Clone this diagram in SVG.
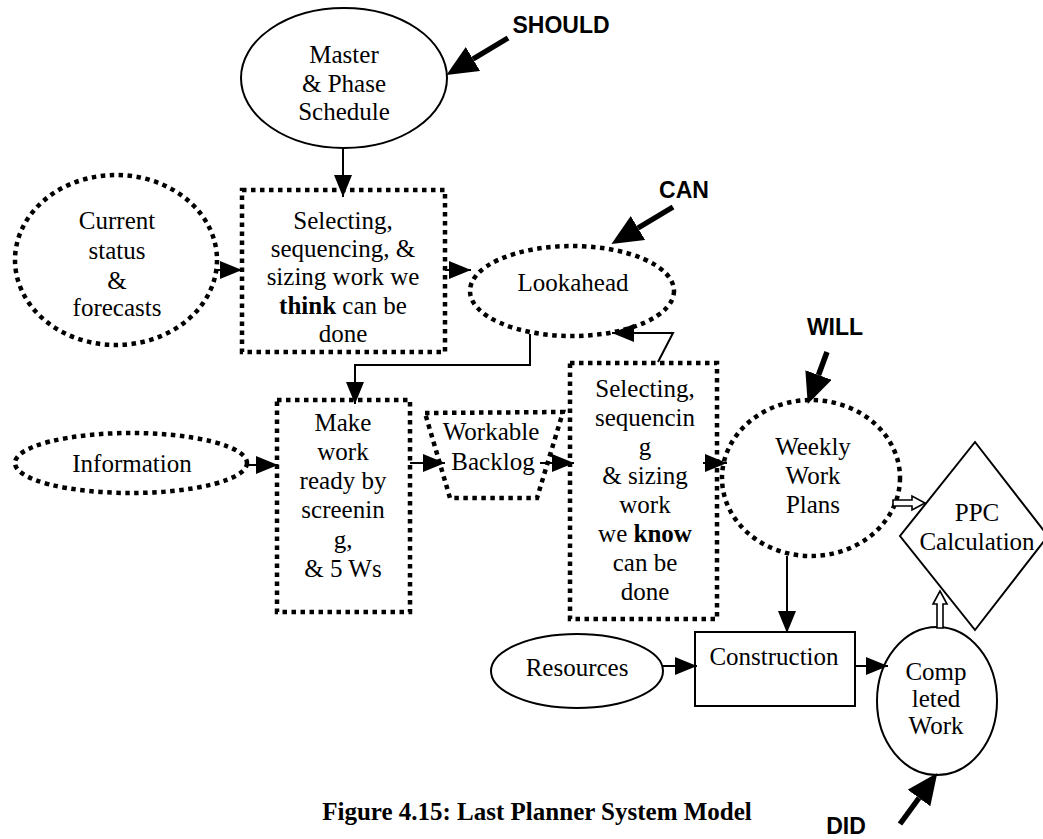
<svg xmlns="http://www.w3.org/2000/svg" width="1043" height="839" viewBox="0 0 1043 839">
  <style>
    .lbl { font-family: "Liberation Serif", "Times New Roman", serif; font-size: 25px; fill: #000; text-anchor: middle; }
    .tag { font-family: "Liberation Sans", Arial, sans-serif; font-size: 23px; font-weight: bold; fill: #000; text-anchor: middle; }
    .cap { font-family: "Liberation Serif", "Times New Roman", serif; font-size: 25px; font-weight: bold; fill: #000; text-anchor: middle; }
    .solid { fill: #fff; stroke: #000; stroke-width: 2; }
    .dot { fill: #fff; stroke: #000; stroke-width: 4.5; stroke-dasharray: 4.5 4.5; }
    .conn { fill: none; stroke: #000; stroke-width: 2; }
    .thick { fill: none; stroke: #000; stroke-width: 5.5; }
    .hollow { fill: #fff; stroke: #000; stroke-width: 1.6; stroke-linejoin: miter; }
  </style>
  <defs>
    <marker id="tri" markerUnits="userSpaceOnUse" markerWidth="24" markerHeight="20" refX="22" refY="9" orient="auto">
      <path d="M0,0 L22,9 L0,18 Z" fill="#000"/>
    </marker>
    <marker id="big" markerUnits="userSpaceOnUse" markerWidth="32" markerHeight="30" refX="0" refY="14" orient="auto">
      <path d="M0,0 L31,14 L0,28 Z" fill="#000"/>
    </marker>
  </defs>

  <rect width="1043" height="839" fill="#fff"/>

  <!-- nodes -->
  <g id="master">
    <ellipse class="solid" cx="344" cy="78" rx="103" ry="70"/>
    <text class="lbl" x="344" y="63">Master</text>
    <text class="lbl" x="344" y="92">&amp; Phase</text>
    <text class="lbl" x="344" y="120">Schedule</text>
  </g>

  <g id="current-status">
    <ellipse class="dot" cx="116" cy="260" rx="101" ry="85"/>
    <text class="lbl" x="117" y="229">Current</text>
    <text class="lbl" x="117" y="259">status</text>
    <text class="lbl" x="117" y="289">&amp;</text>
    <text class="lbl" x="117" y="316">forecasts</text>
  </g>

  <g id="select-think">
    <rect class="dot" x="242" y="190" width="203" height="162"/>
    <text class="lbl" x="343" y="229">Selecting,</text>
    <text class="lbl" x="343" y="257">sequencing, &amp;</text>
    <text class="lbl" x="343" y="285">sizing work we</text>
    <text class="lbl" x="343" y="314"><tspan font-weight="bold">think</tspan> can be</text>
    <text class="lbl" x="343" y="342">done</text>
  </g>

  <g id="lookahead">
    <ellipse class="dot" cx="572" cy="291" rx="102" ry="45"/>
    <text class="lbl" x="573" y="291">Lookahead</text>
  </g>

  <g id="information">
    <ellipse class="dot" cx="131" cy="463" rx="116" ry="30"/>
    <text class="lbl" x="132" y="472">Information</text>
  </g>

  <g id="make-ready">
    <rect class="dot" x="277" y="400" width="133" height="212"/>
    <text class="lbl" x="343" y="431">Make</text>
    <text class="lbl" x="343" y="460">work</text>
    <text class="lbl" x="343" y="489">ready by</text>
    <text class="lbl" x="343" y="518">screenin</text>
    <text class="lbl" x="343" y="548">g,</text>
    <text class="lbl" x="343" y="577">&amp; 5 Ws</text>
  </g>

  <g id="workable-backlog">
    <polygon class="dot" points="425,413 563,412 537,498 450,498"/>
    <text class="lbl" x="491" y="440">Workable</text>
    <text class="lbl" x="493" y="470">Backlog</text>
  </g>

  <g id="select-know">
    <rect class="dot" x="570" y="363" width="147" height="256"/>
    <text class="lbl" x="645" y="397">Selecting,</text>
    <text class="lbl" x="645" y="426">sequencin</text>
    <text class="lbl" x="645" y="455">g</text>
    <text class="lbl" x="645" y="484">&amp; sizing</text>
    <text class="lbl" x="645" y="513">work</text>
    <text class="lbl" x="645" y="542">we <tspan font-weight="bold">know</tspan></text>
    <text class="lbl" x="645" y="571">can be</text>
    <text class="lbl" x="645" y="600">done</text>
  </g>

  <g id="weekly-plans">
    <ellipse class="dot" cx="811" cy="478" rx="89" ry="78"/>
    <text class="lbl" x="813" y="455">Weekly</text>
    <text class="lbl" x="813" y="484">Work</text>
    <text class="lbl" x="813" y="513">Plans</text>
  </g>

  <g id="ppc">
    <polygon class="solid" points="975,442 1048,536 975,630 900,536"/>
    <text class="lbl" x="977" y="521">PPC</text>
    <text class="lbl" x="977" y="550">Calculation</text>
  </g>

  <g id="resources">
    <ellipse class="solid" cx="577" cy="671" rx="86" ry="37"/>
    <text class="lbl" x="577" y="676">Resources</text>
  </g>

  <g id="construction">
    <rect class="solid" x="695" y="632" width="160" height="74" stroke-width="2.5"/>
    <text class="lbl" x="774" y="665">Construction</text>
  </g>

  <g id="completed">
    <ellipse class="solid" cx="937" cy="701" rx="60" ry="74"/>
    <text class="lbl" x="936" y="680">Comp</text>
    <text class="lbl" x="936" y="707">leted</text>
    <text class="lbl" x="936" y="734">Work</text>
  </g>

  <!-- connectors -->
  <g id="connectors">
    <line class="conn" x1="343" y1="148" x2="343" y2="197" marker-end="url(#tri)"/>
    <line class="conn" x1="217" y1="270" x2="242" y2="270" marker-end="url(#tri)"/>
    <line class="conn" x1="445" y1="270" x2="471" y2="270" marker-end="url(#tri)"/>
    <polyline class="conn" points="530,334 530,365 355,365 355,404" marker-end="url(#tri)"/>
    <polyline class="conn" points="658,362 673,333 612,333" marker-end="url(#tri)"/>
    <line class="conn" x1="245" y1="465" x2="278" y2="465" marker-end="url(#tri)"/>
    <line class="conn" x1="410" y1="463" x2="445" y2="463" marker-end="url(#tri)"/>
    <line class="conn" x1="540" y1="463" x2="574" y2="463" marker-end="url(#tri)"/>
    <line class="conn" x1="703" y1="463" x2="727" y2="463" marker-end="url(#tri)"/>
    <line class="conn" x1="787" y1="556" x2="787" y2="633" marker-end="url(#tri)"/>
    <line class="conn" x1="663" y1="666" x2="697" y2="666" marker-end="url(#tri)"/>
    <line class="conn" x1="855" y1="666" x2="888" y2="666" marker-end="url(#tri)"/>
    <path class="hollow" d="M893,500 L912,500 L912,496 L925,503 L912,510 L912,506 L893,506 Z"/>
    <path class="hollow" d="M937,628 L937,604 L933,604 L940,591 L947,604 L943,604 L943,628 Z"/>
  </g>

  <!-- commitment tags -->
  <g id="tag-should">
    <text class="tag" x="561" y="33">SHOULD</text>
    <line class="thick" x1="508" y1="38" x2="473" y2="59" marker-end="url(#big)"/>
  </g>
  <g id="tag-can">
    <text class="tag" x="684" y="198">CAN</text>
    <line class="thick" x1="673" y1="207" x2="638" y2="228" marker-end="url(#big)"/>
  </g>
  <g id="tag-will">
    <text class="tag" x="835" y="335">WILL</text>
    <line class="thick" x1="827" y1="352" x2="818.5" y2="375" marker-end="url(#big)"/>
  </g>
  <g id="tag-did">
    <text class="tag" x="846" y="834" font-size="21">DID</text>
    <line class="thick" x1="900" y1="824" x2="919" y2="798" marker-end="url(#big)"/>
  </g>

  <text class="cap" x="537" y="820">Figure 4.15: Last Planner System Model</text>
</svg>
